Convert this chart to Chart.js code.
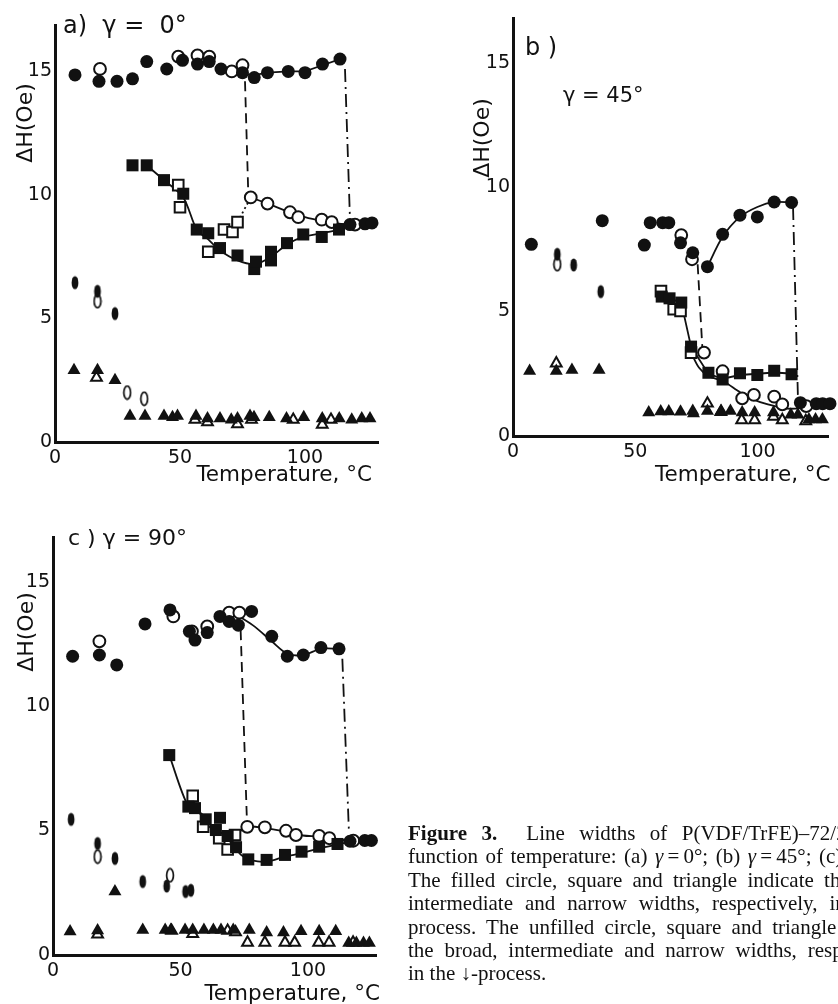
<!DOCTYPE html>
<html>
<head>
<meta charset="utf-8">
<script src="https://cdn.jsdelivr.net/npm/chart.js@4.4.1/dist/chart.umd.min.js"></script>
<style>
  body { margin: 0; width: 838px; height: 1004px; overflow: hidden; background: #fff; position: relative; }
  .panel { position: absolute; }
  #caption { position: absolute; left: 408px; top: 822px; font-family: "Liberation Serif", "Times New Roman", serif;
             font-size: 21px; line-height: 23.4px; color: #111; white-space: nowrap; }
  #caption div { width: 505px; text-align: justify; text-align-last: justify; }
  #caption div.last { text-align-last: left; }
</style>
</head>
<body>
<div class="panel" style="left:0;top:0"><canvas id="chartA" width="420" height="490"></canvas></div>
<div class="panel" style="left:440px;top:0"><canvas id="chartB" width="398" height="490"></canvas></div>
<div class="panel" style="left:0;top:490px"><canvas id="chartC" width="420" height="514"></canvas></div>
<div id="caption">
  <div><b>Figure 3.</b>&nbsp; Line widths of P(VDF/TrFE)–72/28 as a</div>
  <div>function of temperature: (a) <i>γ</i>&thinsp;=&thinsp;0°; (b) <i>γ</i>&thinsp;=&thinsp;45°; (c) <i>γ</i>&thinsp;=&thinsp;90°.</div>
  <div>The filled circle, square and triangle indicate the broad,</div>
  <div>intermediate and narrow widths, respectively, in the ↑-</div>
  <div>process. The unfilled circle, square and triangle indicate</div>
  <div>the broad, intermediate and narrow widths, respectively,</div>
  <div class="last">in the ↓-process.</div>
</div>
<script>
// ticks
const xTicks = [0, 50, 100];
const yTicks = [0, 5, 10, 15];

// (a) gamma = 0 deg  -- [temperature °C, ΔH Oe]
const aBroadUp = [[8,14.86],[17.6,14.6],[24.8,14.6],[31,14.7],[36.7,15.4],[44.7,15.1],[51,15.45],[57,15.3],[61.7,15.4],
  [66.4,15.1],[75,14.95],[79.7,14.75],[85,14.95],[93.3,15.0],[100,14.95],[107,15.3],[114,15.5],[118,8.8],[124,8.83],[126.8,8.87]];
const aBroadDown = [[18,15.1],[49.3,15.6],[57,15.65],[61.7,15.6],[70.7,15.0],[75,15.25],
  [78.3,9.9],[85,9.65],[94,9.3],[97.3,9.1],[106.7,9.0],[110.7,8.9],[120,8.8]];
const aInterUp = [[31,11.2],[36.7,11.2],[43.6,10.6],[51.3,10.05],[56.7,8.6],[61.3,8.45],[66,7.85],[73,7.55],[79.7,7.0],
  [80.4,7.3],[86.4,7.7],[86.4,7.35],[92.8,8.05],[99.3,8.4],[106.7,8.3],[113.6,8.6]];
const aInterDown = [[49.3,10.4],[50,9.5],[61.3,7.7],[67.6,8.6],[71,8.5],[73,8.9]];
const aNarrowUp = [[7.6,2.9],[17,2.9],[24,2.5],[30,1.05],[36,1.05],[43.6,1.05],[47,1.0],[49,1.05],[56.4,1.05],[61,0.95],
  [66,0.95],[70.5,0.9],[73,0.95],[78,1.05],[79.6,1.0],[85.7,1.0],[92.6,0.95],[99.5,1.0],[106.9,0.95],[113.7,0.95],
  [118.7,0.9],[122.7,0.95],[126,0.95]];
const aNarrowDown = [[16.6,2.6],[56,0.9],[61,0.8],[73,0.72],[78.6,0.9],[95.3,0.9],[106.9,0.7],[110.4,0.9]];
const aOvalFilled = [[8,6.45],[17,6.1],[24,5.2]];
const aOvalOpen = [[17,5.7],[28.9,2.0],[35.7,1.75]];
const aBroadCurve = [[75,14.9],[79.7,14.85],[85,14.95],[93.3,15.0],[100,15.0],[107,15.25],[114,15.5]];
const aInterCurve = [[36.7,11.2],[43.6,10.6],[51.3,9.9],[56.7,8.6],[61.3,8.2],[66,7.75],[73,7.35],[80,7.2],[86.4,7.5],
  [92.8,8.0],[99.3,8.3],[106.7,8.45],[113.6,8.6],[120,8.8],[126.8,8.87]];
const aOpenCurve = [[78.3,9.9],[85,9.65],[94,9.3],[100,9.1],[106.7,8.95],[113,8.85],[118,8.8]];
const aDotted = [[73,8.9],[78.3,9.9]];
const aDash = [[76,14.6],[77.3,10.1]];
const aDashDot = [[116,15.1],[118,9.0]];

// (b) gamma = 45 deg
const bBroadUp = [[7.5,7.7],[36.5,8.65],[53.7,7.67],[56.1,8.57],[61.2,8.57],[63.7,8.57],[68.5,7.76],[73.5,7.36],[79.5,6.8],
  [85.7,8.1],[92.8,8.87],[99.9,8.8],[106.8,9.4],[113.9,9.38],[117.5,1.34],[124,1.3],[126.6,1.3],[129.6,1.3]];
const bBroadDown = [[68.8,8.07],[73.2,7.1],[78.1,3.35],[85.7,2.6],[93.7,1.51],[98.5,1.65],[106.8,1.58],[110.1,1.27],[119.9,1.2]];
const bInterUp = [[60.8,5.6],[64,5.53],[68.8,5.36],[72.8,3.59],[79.9,2.54],[85.7,2.27],[92.8,2.52],[99.9,2.45],[106.8,2.62],[113.9,2.48]];
const bInterDown = [[60.5,5.82],[65.7,5.09],[68.5,5.02],[72.8,3.35]];
const bNarrowUp = [[6.8,2.61],[17.7,2.61],[24.1,2.65],[35.2,2.65],[55.5,0.94],[60.4,0.98],[63.7,0.98],[68.5,0.97],[73.5,1.0],
  [73.8,0.9],[79.5,1.0],[85.1,1.0],[88.9,1.0],[93.7,0.94],[98.8,0.94],[106.5,0.94],[113.6,0.85],[116.5,0.85],[121,0.66],
  [123.7,0.66],[126.5,0.66]];
const bNarrowDown = [[17.7,2.92],[79.5,1.31],[85,0.97],[93.5,0.64],[98.8,0.64],[106.5,0.78],[110.1,0.64],[119.7,0.6]];
const bOvalFilled = [[18.1,7.3],[24.8,6.87],[35.9,5.8]];
const bOvalOpen = [[18.1,6.9]];
const bBroadCurve = [[79.5,6.8],[85.7,8.0],[92.8,8.8],[99.9,9.2],[106.8,9.4],[113.9,9.38]];
const bInterCurve = [[60.8,5.6],[64,5.53],[68.8,5.36],[72.8,3.59],[79.9,2.5],[85.7,2.3],[92.8,2.45],[99.9,2.5],[106.8,2.55],[115,2.5]];
const bOpenCurve = [[72.8,3.35],[76,2.75],[80,2.4],[86,2.2],[93,1.75],[100,1.4],[107,1.2],[112,1.1],[117,1.1]];
const bDash = [[75.5,6.9],[77.5,3.4]];
const bDashDot = [[114.5,9.2],[116.5,1.55]];

// (c) gamma = 90 deg
const cBroadUp = [[7.7,12.0],[18.2,12.05],[25,11.65],[36.1,13.3],[45.9,13.86],[53.5,13.0],[55.7,12.65],[60.5,12.95],[65.5,13.6],
  [69.1,13.4],[72.7,13.25],[77.9,13.8],[85.8,12.8],[91.9,12.0],[98.2,12.05],[105.1,12.35],[112.2,12.3],[116.5,4.57],[122.3,4.6],[124.9,4.6]];
const cBroadDown = [[18.2,12.6],[47.2,13.6],[54.5,13.0],[60.5,13.2],[69.1,13.75],[73.1,13.75],
  [76.2,5.15],[83.1,5.13],[91.4,4.99],[95.3,4.82],[104.4,4.78],[108.4,4.69],[117.8,4.59]];
const cInterUp = [[45.6,8.03],[53.1,5.96],[55.7,5.9],[59.9,5.45],[63.9,5.02],[65.5,5.51],[68.5,4.78],[71.8,4.33],[76.6,3.84],
  [83.8,3.82],[91,4.02],[97.5,4.15],[104.4,4.35],[111.6,4.46]];
const cInterDown = [[54.8,6.39],[58.9,5.15],[65.2,4.69],[68.5,4.24],[71.4,4.82]];
const cNarrowUp = [[6.7,0.94],[17.5,0.98],[24.3,2.55],[35.2,1.0],[44,1.0],[46.2,1.0],[51.8,1.0],[54.8,1.0],[59.2,1.0],[62.9,1.0],
  [65.9,1.0],[70.7,1.0],[77,1.0],[83.8,0.9],[90.4,0.9],[97.3,0.95],[104.4,0.95],[110.9,0.95],[116,0.48],[119,0.48],[121.8,0.48],[124.1,0.48]];
const cNarrowDown = [[17.5,0.83],[46.5,0.98],[54.8,0.85],[68.5,0.98],[71.6,0.92],[76.3,0.5],[83.1,0.5],[91,0.5],[94.8,0.5],
  [104.2,0.5],[108.3,0.5],[117.7,0.5]];
const cOvalFilled = [[7.1,5.45],[17.5,4.48],[24.3,3.88],[35.2,2.95],[44.6,2.77],[52,2.55],[54.1,2.6]];
const cOvalOpen = [[17.5,3.95],[45.9,3.2]];
const cBroadCurve = [[73.1,13.6],[79,13.2],[85.8,12.6],[91.9,12.1],[98.2,12.05],[105.1,12.3],[112.2,12.3]];
const cInterCurve = [[45.6,8.03],[53.1,5.96],[58,5.7],[62,5.2],[66,4.85],[70,4.5],[74,4.0],[78,3.8],[84,3.75],[91,3.95],
  [98,4.1],[105,4.3],[112,4.45],[118,4.57],[124.9,4.6]];
const cOpenCurve = [[55,6.2],[60,5.3],[65,4.9],[71.4,4.85],[76.2,5.15],[83.1,5.1],[91.4,4.95],[98,4.8],[104.4,4.75],[110,4.65],[117.8,4.59]];
const cDash = [[73.6,13.05],[76,5.6]];
const cDashDot = [[113.5,11.9],[116.1,4.9]];

const INK = '#111';

// small oval marker (the "0"-shaped points) as a canvas point style
function oval(filled) {
  const c = document.createElement('canvas');
  c.width = 10; c.height = 16;
  const g = c.getContext('2d');
  g.beginPath();
  g.ellipse(5, 8, 3.4, 6.6, 0, 0, Math.PI * 2);
  if (filled) { g.fillStyle = INK; g.fill(); }
  else { g.fillStyle = '#fff'; g.fill(); g.lineWidth = 1.7; g.strokeStyle = INK; g.stroke(); }
  return c;
}
const ovalFilled = oval(true), ovalOpen = oval(false);

const pts = arr => arr.map(([x, y]) => ({ x, y }));

const sizes = { circle: [6.5, 5.9], rect: [8.5, 7.5], triangle: [7.5, 6.2] };
function mark(arr, style, filled) {
  const r = sizes[style][filled ? 0 : 1];
  return {
    data: pts(arr), pointStyle: style, pointRadius: r, pointHoverRadius: r,
    backgroundColor: filled ? INK : '#fff', borderColor: INK, borderWidth: filled ? 0 : 2,
    showLine: false, clip: false, order: filled ? 1 : 2
  };
}
function ovals(arr, filled) {
  return { data: pts(arr), pointStyle: filled ? ovalFilled : ovalOpen, pointRadius: 6, showLine: false, clip: false, order: filled ? 1 : 2 };
}
function curve(arr, dash, tension) {
  return {
    data: pts(arr), showLine: true, pointRadius: 0, borderColor: INK, borderWidth: 1.8,
    borderDash: dash || [], tension: tension || 0, fill: false, clip: false, order: 5
  };
}
const DASH = [10, 6], DASHDOT = [13, 5, 2, 5], DOT = [2, 3];

// free text (panel letters, axis titles)
const textPlugin = {
  id: 'panelText',
  afterDraw(chart, args, opts) {
    const ctx = chart.ctx;
    (opts.items || []).forEach(t => {
      ctx.save();
      ctx.font = t.font;
      ctx.fillStyle = INK;
      ctx.textAlign = t.align || 'left';
      ctx.textBaseline = 'alphabetic';
      ctx.translate(t.x, t.y);
      if (t.rot) ctx.rotate(t.rot);
      ctx.fillText(t.text, 0, 0);
      ctx.restore();
    });
  }
};

function makePanel(id, p) {
  new Chart(document.getElementById(id), {
    type: 'scatter',
    data: { datasets: p.datasets },
    options: {
      responsive: false, animation: false, events: [],
      layout: { padding: { left: 0, top: p.top, right: p.right, bottom: 0 } },
      plugins: { legend: { display: false }, tooltip: { enabled: false }, panelText: { items: p.texts } },
      scales: {
        x: {
          type: 'linear', min: 0, max: p.xMax,
          grid: { display: false, drawTicks: false }, border: { display: true, color: INK, width: 3 },
          ticks: { color: INK, font: { family: 'DejaVu Sans', size: 19 }, padding: 5, maxRotation: 0 },
          afterBuildTicks: s => { s.ticks = xTicks.map(v => ({ value: v })); },
          afterFit: s => { s.height = p.xAxisH; }
        },
        y: {
          type: 'linear', min: 0, max: p.yMax,
          grid: { display: false, drawTicks: false }, border: { display: true, color: INK, width: 3 },
          ticks: { color: INK, font: { family: 'DejaVu Sans', size: 19 }, padding: 3 },
          afterBuildTicks: s => { s.ticks = yTicks.map(v => ({ value: v })); },
          afterFit: s => { s.width = p.yAxisW; }
        }
      }
    },
    plugins: [textPlugin]
  });
}

const F = 'px "DejaVu Sans"';

makePanel('chartA', {
  top: 25, right: 42, xMax: 129.2, yMax: 16.88, yAxisW: 55, xAxisH: 48,
  datasets: [
    curve(aBroadCurve), curve(aInterCurve, null, 0.3), curve(aOpenCurve, null, 0.3), curve(aDotted, DOT),
    curve(aDash, DASH), curve(aDashDot, DASHDOT),
    mark(aBroadDown, 'circle', false), mark(aInterDown, 'rect', false), mark(aNarrowDown, 'triangle', false), ovals(aOvalOpen, false),
    mark(aBroadUp, 'circle', true), mark(aInterUp, 'rect', true), mark(aNarrowUp, 'triangle', true), ovals(aOvalFilled, true)
  ],
  texts: [
    { text: 'a)  γ =  0°', x: 63, y: 33, font: '24' + F },
    { text: 'ΔH(Oe)', x: 32, y: 123, rot: -Math.PI / 2, align: 'center', font: '22' + F },
    { text: 'Temperature, °C', x: 372, y: 481, align: 'right', font: '21.5' + F }
  ]
});

makePanel('chartB', {
  top: 18, right: 0, xMax: 129, yMax: 16.79, yAxisW: 73, xAxisH: 54,
  datasets: [
    curve(bBroadCurve, null, 0.3), curve(bInterCurve), curve(bOpenCurve, null, 0.3),
    curve(bDash, DASH), curve(bDashDot, DASHDOT),
    mark(bBroadDown, 'circle', false), mark(bInterDown, 'rect', false), mark(bNarrowDown, 'triangle', false), ovals(bOvalOpen, false),
    mark(bBroadUp, 'circle', true), mark(bInterUp, 'rect', true), mark(bNarrowUp, 'triangle', true), ovals(bOvalFilled, true)
  ],
  texts: [
    { text: 'b )', x: 85, y: 55, font: '24' + F },
    { text: 'γ = 45°', x: 123, y: 102, font: '21' + F },
    { text: 'ΔH(Oe)', x: 49, y: 138, rot: -Math.PI / 2, align: 'center', font: '22' + F },
    { text: 'Temperature, °C', x: 215, y: 481, font: '21.5' + F }
  ]
});

makePanel('chartC', {
  top: 47, right: 44, xMax: 126.7, yMax: 16.79, yAxisW: 53, xAxisH: 49,
  datasets: [
    curve(cBroadCurve, null, 0.3), curve(cInterCurve, null, 0.3), curve(cOpenCurve, null, 0.3),
    curve(cDash, DASH), curve(cDashDot, DASHDOT),
    mark(cBroadDown, 'circle', false), mark(cInterDown, 'rect', false), mark(cNarrowDown, 'triangle', false), ovals(cOvalOpen, false),
    mark(cBroadUp, 'circle', true), mark(cInterUp, 'rect', true), mark(cNarrowUp, 'triangle', true), ovals(cOvalFilled, true)
  ],
  texts: [
    { text: 'c ) γ = 90°', x: 68, y: 55, font: '22' + F },
    { text: 'ΔH(Oe)', x: 33, y: 142, rot: -Math.PI / 2, align: 'center', font: '22' + F },
    { text: 'Temperature, °C', x: 380, y: 510, align: 'right', font: '21.5' + F }
  ]
});
</script>
</body>
</html>
